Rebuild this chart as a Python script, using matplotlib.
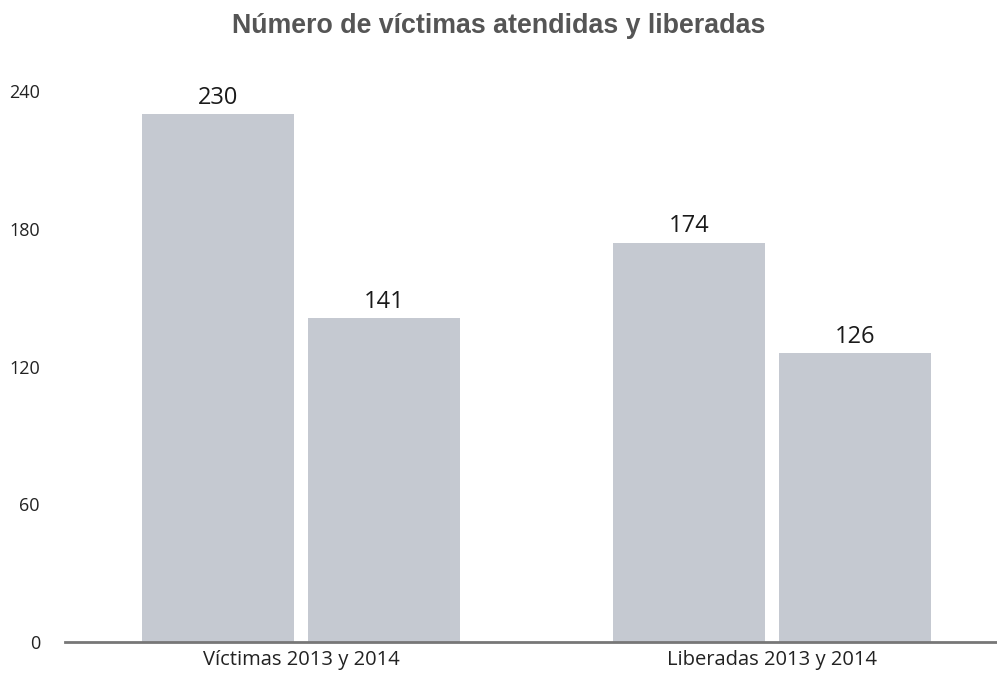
import matplotlib
matplotlib.use("Agg")
import matplotlib.pyplot as plt
import numpy as np

categories = ["Víctimas 2013 y 2014", "Liberadas 2013 y 2014"]
series_2013 = [230, 174]
series_2014 = [141, 126]
yticks = [0, 60, 120, 180, 240]
title = "Número de víctimas atendidas y liberadas"

fig = plt.figure(figsize=(9.97, 6.77), dpi=100)
ax = fig.add_axes([65/997, 35/677, 1 - 65/997, (642-91)/677])

x = np.arange(len(categories))
w = 0.323
off = 0.176
color = "#c5c9d1"
b1 = ax.bar(x - off, series_2013, width=w, color=color)
b2 = ax.bar(x + off, series_2014, width=w, color=color)

for bars, vals in ((b1, series_2013), (b2, series_2014)):
    for r, v in zip(bars, vals):
        ax.annotate(str(v), (r.get_x() + r.get_width()/2, v), xytext=(0, 3),
                    textcoords="offset points", ha="center", va="bottom",
                    fontsize=17, family="Open Sans", color="#1a1a1a")

ax.set_xlim(-0.501, 1.478)
ax.set_ylim(0, 240)
ax.set_yticks(yticks)
ax.set_yticklabels([str(t) for t in yticks], family="Open Sans", fontsize=13,
                   color="#222222", fontweight="medium")
ax.set_xticks(x)
ax.set_xticklabels(categories, family="Open Sans", fontsize=14.5, color="#222222")
ax.tick_params(axis="y", length=0, pad=18)
ax.tick_params(axis="x", length=0, pad=6)
for s in ("top", "right", "left"):
    ax.spines[s].set_visible(False)
ax.spines["bottom"].set_color("#777777")
ax.spines["bottom"].set_linewidth(2)

fig.text(0.5, 1 - 26/677, title, ha="center", va="center", fontsize=19.3,
         fontweight="bold", family="Liberation Sans", color="#555555")

fig.savefig("out.png", dpi=100)
